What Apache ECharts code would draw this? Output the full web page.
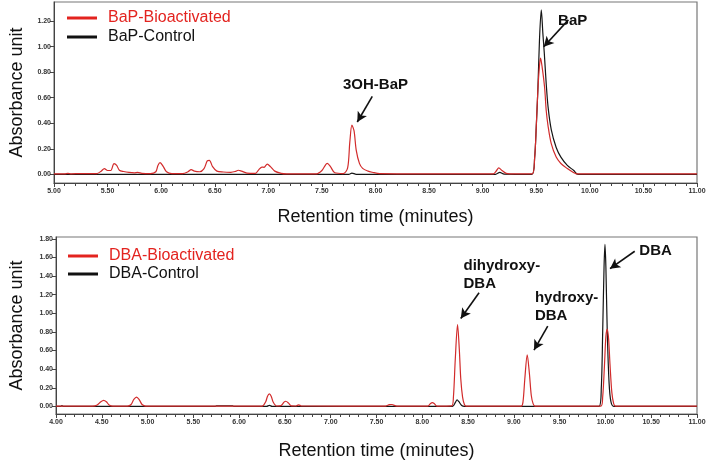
<!DOCTYPE html>
<html>
<head>
<meta charset="utf-8">
<script src="https://cdn.jsdelivr.net/npm/echarts@6/dist/echarts.min.js"></script>
<style>html,body{margin:0;padding:0;background:#fff}#c{width:709px;height:461px}</style>
</head>
<body>
<div id="c"></div>
<script>
// ---------- DATA ----------
const topTicksY = [0, 0.2, 0.4, 0.6, 0.8, 1.0, 1.2];
const bottomTicksY = [0, 0.2, 0.4, 0.6, 0.8, 1.0, 1.2, 1.4, 1.6, 1.8];
const topXRange = [5, 11];
const bottomXRange = [4, 11];

// [retention time (min), absorbance]
const bapBioactivated = [
  [5.00,0.003],[5.10,0.004],[5.13,0.008],[5.16,0.004],[5.25,0.006],[5.40,0.006],[5.44,0.025],[5.47,0.045],
  [5.50,0.03],[5.53,0.03],[5.56,0.084],[5.585,0.07],[5.61,0.032],[5.65,0.022],[5.70,0.015],[5.75,0.012],
  [5.78,0.015],[5.82,0.008],[5.90,0.005],[5.95,0.02],[5.97,0.07],[5.99,0.092],[6.02,0.06],[6.05,0.02],
  [6.10,0.006],[6.20,0.006],[6.25,0.02],[6.28,0.037],[6.31,0.025],[6.36,0.02],[6.40,0.045],[6.43,0.105],
  [6.45,0.11],[6.48,0.06],[6.52,0.025],[6.58,0.018],[6.65,0.016],[6.69,0.022],[6.72,0.032],[6.75,0.025],
  [6.80,0.01],[6.88,0.008],[6.91,0.035],[6.94,0.057],[6.96,0.055],[6.99,0.08],[7.02,0.06],[7.06,0.025],
  [7.12,0.008],[7.17,0.004],[7.45,0.004],[7.50,0.03],[7.55,0.086],[7.58,0.06],[7.62,0.012],[7.70,0.006],
  [7.74,0.05],[7.76,0.25],[7.78,0.385],[7.80,0.34],[7.82,0.19],[7.85,0.086],[7.88,0.047],[7.93,0.025],
  [7.97,0.016],[8.04,0.005],[8.20,0.004],[9.10,0.004],[9.13,0.03],[9.15,0.05],[9.18,0.03],[9.22,0.008],
  [9.30,0.003],[9.46,0.003],[9.485,0.13],[9.50,0.37],[9.515,0.66],[9.53,0.85],[9.54,0.91],[9.555,0.84],
  [9.578,0.68],[9.593,0.50],[9.61,0.38],[9.64,0.24],[9.686,0.135],[9.73,0.085],[9.79,0.045],[9.85,0.013],
  [9.88,0.003],[11.00,0.003]
];
const bapControl = [
  [5.00,0],[7.75,0],[7.78,0.01],[7.82,0],[9.12,0],[9.16,0.015],[9.20,0.002],[9.46,0],[9.485,0.13],
  [9.50,0.37],[9.515,0.66],[9.53,1.05],[9.547,1.288],[9.562,1.1],[9.575,0.95],[9.593,0.71],[9.61,0.53],
  [9.64,0.35],[9.686,0.21],[9.73,0.135],[9.79,0.07],[9.85,0.03],[9.89,0],[11.00,0]
];
const dbaBioactivated = [
  [4.00,0.002],[4.40,0.002],[4.45,0.015],[4.49,0.05],[4.52,0.065],[4.55,0.05],[4.58,0.015],[4.62,0.002],
  [4.78,0.002],[4.82,0.02],[4.85,0.075],[4.88,0.1],[4.91,0.07],[4.94,0.02],[4.98,0.003],[6.25,0.002],
  [6.29,0.05],[6.31,0.11],[6.33,0.134],[6.35,0.11],[6.37,0.05],[6.41,0.004],[6.46,0.01],[6.49,0.045],
  [6.51,0.055],[6.54,0.035],[6.57,0.005],[6.62,0.004],[6.65,0.017],[6.68,0.004],[7.60,0.003],[7.64,0.018],
  [7.67,0.02],[7.70,0.008],[7.74,0.002],[8.06,0.003],[8.09,0.03],[8.11,0.04],[8.13,0.03],[8.16,0.003],
  [8.32,0.005],[8.34,0.1],[8.36,0.5],[8.385,0.88],[8.405,0.6],[8.42,0.3],[8.44,0.1],[8.46,0.02],
  [8.48,0.003],[9.08,0.002],[9.10,0.05],[9.12,0.3],[9.146,0.553],[9.17,0.35],[9.19,0.12],[9.21,0.03],
  [9.23,0.003],[9.95,0.003],[9.97,0.1],[9.99,0.45],[10.005,0.75],[10.02,0.83],[10.035,0.72],[10.05,0.45],
  [10.07,0.15],[10.09,0.03],[10.11,0.003],[11.00,0.002]
];
const dbaControl = [
  [4.00,0],[4.05,0],[4.065,0.008],[4.08,0],[5.74,0],[5.75,0.006],[5.93,0.006],[5.94,0],[6.30,0],
  [6.33,0.01],[6.36,0],[8.33,0],[8.36,0.04],[8.38,0.07],[8.40,0.05],[8.43,0.01],[8.46,0],[9.93,0],
  [9.955,0.2],[9.97,0.8],[9.985,1.5],[9.995,1.74],[10.005,1.5],[10.02,0.8],[10.04,0.25],[10.06,0.05],
  [10.09,0],[11.00,0]
];

// annotations: label text, label anchor [x,y], arrow from, arrow to (data units)
const topNotes = [
  {text:'3OH-BaP', at:[8.00,0.70], align:'center', from:[7.97,0.61], to:[7.83,0.41]},
  {text:'BaP', at:[9.84,1.20], align:'center', from:[9.80,1.21], to:[9.57,1.0]}
];
const bottomNotes = [
  {text:'dihydroxy-\nDBA', at:[8.45,1.41], align:'left', from:[8.62,1.22], to:[8.42,0.945]},
  {text:'hydroxy-\nDBA', at:[9.23,1.07], align:'left', from:[9.37,0.863], to:[9.22,0.605]},
  {text:'DBA', at:[10.37,1.667], align:'left', from:[10.32,1.667], to:[10.05,1.48]}
];

// ---------- STYLE ----------
const FONT = '"Liberation Sans", Arial, sans-serif';
const RED = '#d22b2b';
const BLACK = '#151515';
const fmt = v => Number(v).toFixed(2);

function xAxis(gi, range, gap) {
  return {
    gridIndex: gi, type: 'value', min: range[0], max: range[1], interval: 0.5,
    name: 'Retention time (minutes)', nameLocation: 'middle', nameGap: gap,
    nameTextStyle: {fontSize: 18, color: '#111', fontFamily: FONT},
    axisLine: {show: true, onZero: false, lineStyle: {color: '#444', width: 1}},
    axisTick: {show: true, length: 4, lineStyle: {color: '#444'}},
    minorTick: {show: true, splitNumber: 5, length: 3, lineStyle: {color: '#444'}},
    splitLine: {show: false}, minorSplitLine: {show: false},
    axisLabel: {formatter: fmt, fontSize: 7, fontWeight: 'bold', color: '#333', margin: 5, fontFamily: FONT}
  };
}
function yAxis(gi, min, max, ticks, gap) {
  return {
    gridIndex: gi, type: 'value', min: min, max: max,
    name: 'Absorbance unit', nameLocation: 'middle', nameRotate: 90, nameGap: gap,
    nameTextStyle: {fontSize: 18, color: '#111', fontFamily: FONT},
    axisLine: {show: true, onZero: false, lineStyle: {color: '#444', width: 1}},
    axisTick: {show: true, length: 4, customValues: ticks, lineStyle: {color: '#444'}},
    splitLine: {show: false},
    axisLabel: {customValues: ticks, formatter: fmt, fontSize: 7, fontWeight: 'bold', color: '#333', margin: 3, fontFamily: FONT}
  };
}
function notesMarks(notes) {
  return {
    markLine: {
      silent: true, symbol: ['none', 'arrow'], symbolSize: [8, 10], animation: false,
      lineStyle: {color: '#111', width: 1.6, type: 'solid'}, label: {show: false},
      emphasis: {disabled: true},
      data: notes.map(n => [{coord: n.from}, {coord: n.to}])
    },
    markPoint: {
      silent: true, symbol: 'circle', symbolSize: 0, animation: false,
      itemStyle: {color: 'rgba(0,0,0,0)'},
      data: notes.map(n => ({
        name: n.text, coord: n.at,
        label: {show: true, formatter: n.text, position: [0, 0], align: n.align, verticalAlign: 'middle',
                fontSize: 15, fontWeight: 'bold', color: '#111', lineHeight: 18, fontFamily: FONT}
      }))
    }
  };
}
function line(name, data, color, xi, extra) {
  return Object.assign({
    name: name, type: 'line', xAxisIndex: xi, yAxisIndex: xi, data: data,
    showSymbol: false, symbol: 'none', smooth: 0.3, lineStyle: {color: color, width: 1.2},
    itemStyle: {color: color}, animation: false, z: 2
  }, extra || {});
}
function legend(names, left, top, gap) {
  return {
    left: left, top: top, orient: 'vertical', itemGap: gap, itemWidth: 30, itemHeight: 3,
    icon: 'rect', selectedMode: false,
    textStyle: {fontSize: 16, fontFamily: FONT, padding: [0, 0, 0, 6]},
    data: [
      {name: names[0], textStyle: {color: '#e3231f'}, itemStyle: {color: '#e3231f'}},
      {name: names[1], textStyle: {color: '#111'}, itemStyle: {color: '#111'}}
    ]
  };
}

const chart = echarts.init(document.getElementById('c'), null, {renderer: 'canvas'});
chart.setOption({
  animation: false,
  backgroundColor: '#fff',
  grid: [
    {left: 49, right: 12, top: 2, height: 181, show: true, borderColor: '#777', borderWidth: 1.2},
    {left: 51, right: 12, top: 237, height: 185, show: true, borderColor: '#777', borderWidth: 1.2}
  ],
  xAxis: [xAxis(0, topXRange, 25), xAxis(1, bottomXRange, 28)],
  yAxis: [yAxis(0, -0.068, 1.35, topTicksY, 28), yAxis(1, -0.082, 1.82, bottomTicksY, 30)],
  legend: [
    legend(['BaP-Bioactivated', 'BaP-Control'], 62, 5, 3),
    legend(['DBA-Bioactivated', 'DBA-Control'], 63, 243, 2)
  ],
  series: [
    line('BaP-Control', bapControl, BLACK, 0, notesMarks(topNotes)),
    line('BaP-Bioactivated', bapBioactivated, RED, 0, {z: 3}),
    line('DBA-Control', dbaControl, BLACK, 1, notesMarks(bottomNotes)),
    line('DBA-Bioactivated', dbaBioactivated, RED, 1, {z: 3})
  ]
});
</script>
</body>
</html>
